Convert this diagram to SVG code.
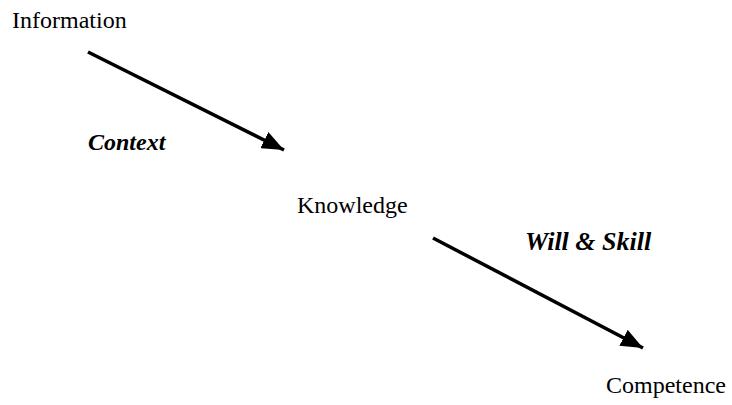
<svg xmlns="http://www.w3.org/2000/svg" width="732" height="405" viewBox="0 0 732 405">
<defs>
<style>
.t{font-family:"Liberation Serif","Times New Roman",serif;font-size:24px;fill:#000}
.b{font-weight:bold;font-style:italic}
.c{stroke:#000;stroke-width:3.5;fill:none}
</style>
<marker id="ah" markerUnits="userSpaceOnUse" markerWidth="24" markerHeight="18" refX="22" refY="9" orient="auto">
<path d="M0,0 L22,9 L0,18 Z" fill="#000"/>
</marker>
</defs>
<rect width="732" height="405" fill="#fff"/>
<g id="connectors">
<line class="c" x1="88" y1="52" x2="284" y2="150" marker-end="url(#ah)"/>
<line class="c" x1="433" y1="238" x2="643" y2="348" marker-end="url(#ah)"/>
</g>
<g id="information"><text class="t" x="12" y="28">Information</text></g>
<g id="knowledge"><text class="t" x="297" y="213">Knowledge</text></g>
<g id="competence"><text class="t" x="606" y="393">Competence</text></g>
<g id="label-context"><text class="t b" x="88" y="150">Context</text></g>
<g id="label-will-skill"><text class="t b" x="525" y="250" style="font-size:26px">Will &amp; Skill</text></g>
</svg>
